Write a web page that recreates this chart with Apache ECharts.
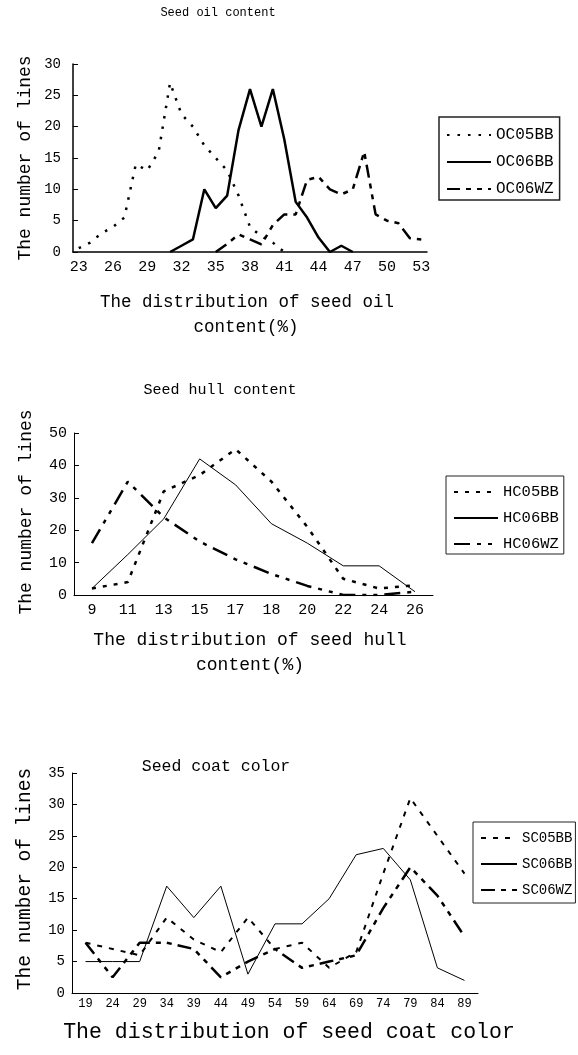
<!DOCTYPE html>
<html><head><meta charset="utf-8">
<script src="https://cdn.jsdelivr.net/npm/echarts@6/dist/echarts.min.js"></script>
<style>html,body{margin:0;padding:0;background:#fff}#c{width:578px;height:1055px}</style>
</head><body><div id="c"></div>
<script>
// ---- Chart 1: Seed oil content ----
const oilCats = ['23','24','25','26','27','28','29','30','31','32','33','34','35','36','37','38','39','40','41','42','43','44','45','46','47','48','49','50','51','52','53'];
const oilTicks = [0, 5, 10, 15, 20, 25, 30];
const OC05BB = [0.6,1.5,3,4,5.5,14,13,16,27,22,20,17,15,13,9,4,2.5,1.5,0,null,null,null,null,null,null,null,null,null,null,null,null];
const OC06BB = [null,null,null,null,null,null,null,null,0,1,2,10,7,9,19.5,26,20,26,18,8,5.5,2.3,0,1,0,null,null,null,null,null,null];
const OC06WZ = [null,null,null,null,null,null,null,null,null,null,null,null,0,1.3,2.8,2,1.2,4.3,6,6,11.5,12,10,9.2,10,16,6,5,4.6,2.2,2];

// ---- Chart 2: Seed hull content ----
const hullCats = ['9','11','13','15','17','18','20','22','24','26'];
const hullTicks = [0, 10, 20, 30, 40, 50];
const HC05BB = [2,4,32,37,45,35,21,5,2,3];
const HC06BB = [2,12.5,23.5,42,34,22,16,9,9,1];
const HC06WZ = [16,35,24,16.5,11,6.5,2.8,0,0,1];

// ---- Chart 3: Seed coat color ----
const coatCats = ['19','24','29','34','39','44','49','54','59','64','69','74','79','84','89'];
const coatTicks = [0, 5, 10, 15, 20, 25, 30, 35];
const SC05BB = [8,7,6,12,8.5,6.5,12,7,8,4,6.5,19,31,25,19];
const SC06BB = [5,5,5,17,12,17,3,11,11,15,22,23,18,4,2];
const SC06WZ = [8,2.5,8,8,7,2.5,5,7,4,5,6,13.5,20,15.5,9];

const FONT = '"Liberation Mono", "DejaVu Sans Mono", monospace';

function xAx(idx, cats, fs, margin, labelInterval, lw) {
  return {
    gridIndex: idx, type: 'category', data: cats, boundaryGap: true,
    axisLine: { lineStyle: { color: '#000', width: lw } },
    axisTick: { inside: true, length: 5, interval: 0, lineStyle: { color: '#000', width: 1 } },
    axisLabel: { interval: labelInterval, margin: margin, color: '#000', fontFamily: FONT, fontSize: fs },
    splitLine: { show: false }
  };
}
function yAx(idx, ticks, fs, margin, lw) {
  return {
    gridIndex: idx, type: 'value', min: ticks[0], max: ticks[ticks.length - 1], interval: ticks[1] - ticks[0],
    axisLine: { show: true, lineStyle: { color: '#000', width: lw } },
    axisTick: { show: true, inside: true, length: 5, lineStyle: { color: '#000', width: 1 } },
    axisLabel: { margin: margin, color: '#000', fontFamily: FONT, fontSize: fs },
    splitLine: { show: false }
  };
}
function ser(name, idx, data, width, dash) {
  return {
    name: name, type: 'line', xAxisIndex: idx, yAxisIndex: idx, data: data,
    symbol: 'none', smooth: false, animation: false,
    itemStyle: { color: '#000' },
    lineStyle: { color: '#000', width: width, type: dash, cap: 'butt' }
  };
}
function txt(text, x, y, fs, rot) {
  return {
    type: 'text', x: x, y: y, rotation: rot || 0, silent: true,
    style: { text: text, font: fs + 'px ' + FONT, fill: '#000',
      align: 'center', verticalAlign: 'middle', textAlign: 'center', textVerticalAlign: 'middle' }
  };
}
function leg(names, left, top, fs, iw, gap, pad, bw) {
  return {
    data: names, orient: 'vertical', left: left, top: top,
    itemWidth: iw, itemHeight: 14, itemGap: gap, padding: pad,
    borderColor: '#222', borderWidth: bw, backgroundColor: '#fff',
    selectedMode: false,
    itemStyle: { opacity: 0, borderWidth: 0 },
    textStyle: { fontFamily: FONT, fontSize: fs, color: '#000', lineHeight: 16 }
  };
}

const chart = echarts.init(document.getElementById('c'), null, { renderer: 'canvas' });
chart.setOption({
  animation: false,
  backgroundColor: '#fff',
  grid: [
    { left: 73, top: 64, width: 354, height: 188 },
    { left: 74, top: 433, width: 359, height: 162 },
    { left: 72, top: 773, width: 406, height: 220 }
  ],
  xAxis: [
    xAx(0, oilCats, 15, 8, 2, 1.5),
    xAx(1, hullCats, 15, 8, 0, 1),
    xAx(2, coatCats, 12, 5, 0, 1)
  ],
  yAxis: [
    yAx(0, oilTicks, 14, 12, 1.5),
    yAx(1, hullTicks, 15, 7, 1),
    yAx(2, coatTicks, 14, 7, 1)
  ],
  legend: [
    leg(['OC05BB', 'OC06BB', 'OC06WZ'], 439, 117, 16, 44, 11, [10, 6, 3, 7], 1.5),
    leg(['HC05BB', 'HC06BB', 'HC06WZ'], 446, 476, 15.5, 44, 10, [8, 5, 2, 7], 1),
    leg(['SC05BB', 'SC06BB', 'SC06WZ'], 473, 822, 14, 36, 10, [8, 3, 5, 7], 1)
  ],
  series: [
    ser('OC05BB', 0, OC05BB, 2.5, [2.5, 8]),
    ser('OC06BB', 0, OC06BB, 2.5, 'solid'),
    ser('OC06WZ', 0, OC06WZ, 2.5, [13, 6, 5, 6, 5, 6]),
    ser('HC05BB', 1, HC05BB, 2.5, [4, 7]),
    ser('HC06BB', 1, HC06BB, 1, 'solid'),
    ser('HC06WZ', 1, HC06WZ, 2.5, [16, 7, 4, 7, 4, 7]),
    ser('SC05BB', 2, SC05BB, 2, [5, 7]),
    ser('SC06BB', 2, SC06BB, 1, 'solid'),
    ser('SC06WZ', 2, SC06WZ, 2.5, [14, 6, 5, 6, 5, 6])
  ],
  graphic: [
    txt('Seed oil content', 218, 13, 12),
    txt('The distribution of seed oil', 247, 302, 17.5),
    txt('content(%)', 246, 327, 17.5),
    txt('The number of lines', 25, 158, 18, Math.PI / 2),
    txt('Seed hull content', 220, 390, 15),
    txt('The distribution of seed hull', 250, 640, 18),
    txt('content(%)', 250, 665, 18),
    txt('The number of lines', 26, 512, 18, Math.PI / 2),
    txt('Seed coat color', 216, 767, 16.5),
    txt('The distribution of seed coat color', 289, 1032, 21.5),
    txt('The number of lines', 25, 879, 19.5, Math.PI / 2)
  ]
});
</script>
</body></html>
